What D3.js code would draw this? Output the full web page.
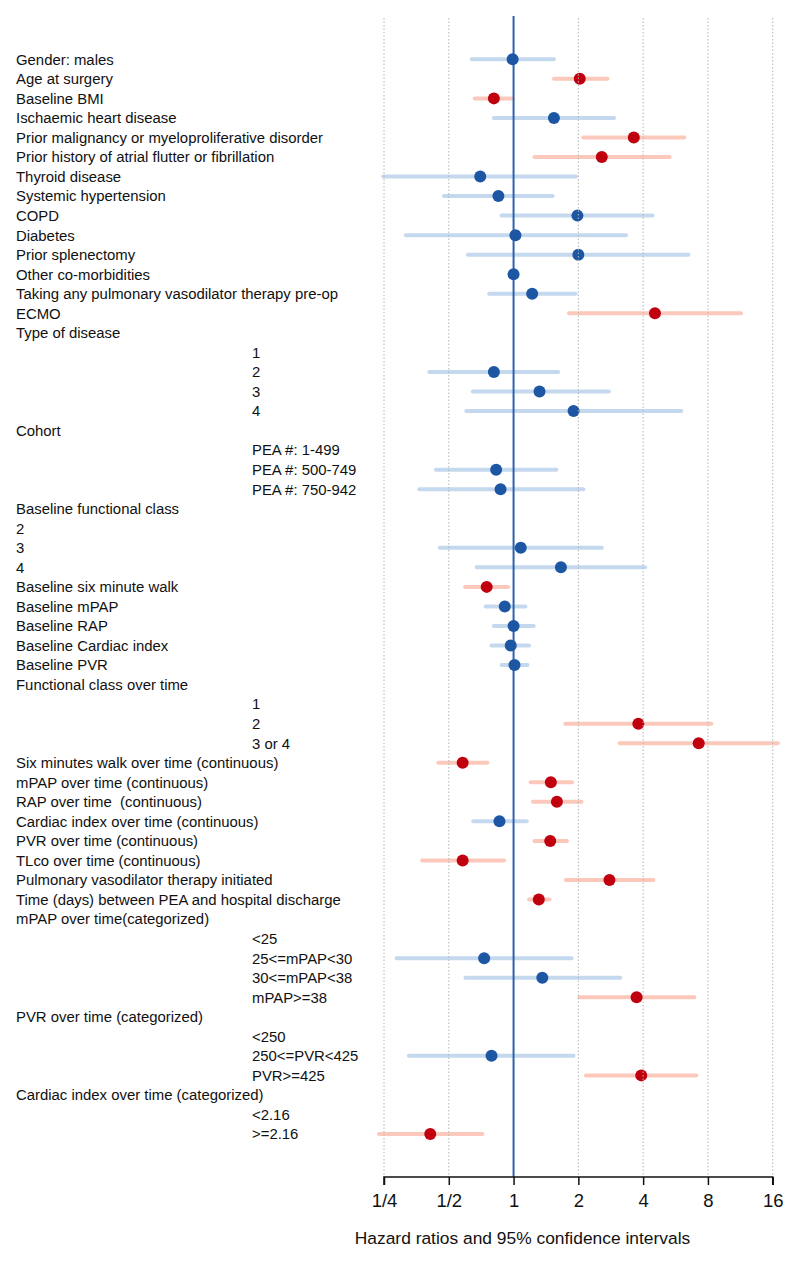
<!DOCTYPE html>
<html>
<head>
<meta charset="utf-8">
<script src="https://cdn.jsdelivr.net/npm/d3@7"></script>
<style>
  html, body { margin: 0; padding: 0; background: #fff; }
  svg { display: block; }
  text { font-family: "Liberation Sans", Arial, sans-serif; }
</style>
</head>
<body>
<div id="chart"></div>
<script>
// ---- data ----
const labels = [
  "Gender: males", "Age at surgery", "Baseline BMI", "Ischaemic heart disease",
  "Prior malignancy or myeloproliferative disorder", "Prior history of atrial flutter or fibrillation",
  "Thyroid disease", "Systemic hypertension", "COPD", "Diabetes", "Prior splenectomy",
  "Other co-morbidities", "Taking any pulmonary vasodilator therapy pre-op", "ECMO",
  "Type of disease", "1", "2", "3", "4",
  "Cohort", "PEA #: 1-499", "PEA #: 500-749", "PEA #: 750-942",
  "Baseline functional class", "2", "3", "4",
  "Baseline six minute walk", "Baseline mPAP", "Baseline RAP", "Baseline Cardiac index", "Baseline PVR",
  "Functional class over time", "1", "2", "3 or 4",
  "Six minutes walk over time (continuous)", "mPAP over time (continuous)", "RAP over time  (continuous)",
  "Cardiac index over time (continuous)", "PVR over time (continuous)", "TLco over time (continuous)",
  "Pulmonary vasodilator therapy initiated", "Time (days) between PEA and hospital discharge",
  "mPAP over time(categorized)", "<25", "25<=mPAP<30", "30<=mPAP<38", "mPAP>=38",
  "PVR over time (categorized)", "<250", "250<=PVR<425", "PVR>=425",
  "Cardiac index over time (categorized)", "<2.16", ">=2.16"
];
// 1 = sub-level (indented) label
const subLevel = [
  0,0,0,0,0,0,0,0,0,0,0,0,0,0,
  0,1,1,1,1,
  0,1,1,1,
  0,0,0,0,
  0,0,0,0,0,
  0,1,1,1,
  0,0,0,0,0,0,0,0,
  0,1,1,1,1,
  0,1,1,1,
  0,1,1
];
const hr = [
  0.99, 2.03, 0.81, 1.54, 3.62, 2.57, 0.70, 0.85, 1.98, 1.02, 2.00, 1.00, 1.22, 4.54,
  null, null, 0.81, 1.32, 1.90,
  null, null, 0.83, 0.87,
  null, null, 1.08, 1.66,
  0.75, 0.91, 1.00, 0.97, 1.01,
  null, null, 3.80, 7.25,
  0.58, 1.49, 1.59, 0.86, 1.48, 0.58, 2.79, 1.31,
  null, null, 0.73, 1.36, 3.73,
  null, null, 0.79, 3.92,
  null, null, 0.41
];
const lower = [
  0.64, 1.54, 0.66, 0.81, 2.11, 1.25, 0.248, 0.475, 0.88, 0.316, 0.614, 0.99, 0.77, 1.81,
  null, null, 0.406, 0.646, 0.603,
  null, null, 0.436, 0.365,
  null, null, 0.454, 0.674,
  0.595, 0.742, 0.81, 0.79, 0.88,
  null, null, 1.74, 3.11,
  0.447, 1.20, 1.23, 0.65, 1.25, 0.376, 1.75, 1.18,
  null, null, 0.286, 0.597, 2.02,
  null, null, 0.326, 2.17,
  null, null, 0.237
];
const upper = [
  1.54, 2.73, 0.99, 2.93, 6.21, 5.31, 1.95, 1.52, 4.42, 3.33, 6.49, 1.01, 1.94, 11.4,
  null, null, 1.61, 2.77, 6.02,
  null, null, 1.58, 2.11,
  null, null, 2.57, 4.09,
  0.943, 1.135, 1.24, 1.18, 1.16,
  null, null, 8.30, 16.9,
  0.755, 1.87, 2.07, 1.15, 1.77, 0.903, 4.46, 1.47,
  null, null, 1.86, 3.13, 6.92,
  null, null, 1.90, 7.07,
  null, null, 0.716
];
const tickValues = [0.25, 0.5, 1, 2, 4, 8, 16];
const tickLabels = ["1/4", "1/2", "1", "2", "4", "8", "16"];
const xTitle = "Hazard ratios and 95% confidence intervals";

// ---- layout ----
const W = 800, H = 1261;
const svg = d3.select("#chart").append("svg").attr("width", W).attr("height", H);

const x = d3.scaleLog().base(2).domain([0.25, 16]).range([384, 772.7]);
const y = d3.scaleLinear().domain([0, labels.length - 1]).range([59.3, 1134]);
const axisY = 1177;

const rows = labels.map((l, i) => ({ i, label: l, sub: subLevel[i], hr: hr[i], lo: lower[i], hi: upper[i] }));
const est = rows.filter(d => d.hr !== null);
const sig = d => d.lo > 1 || d.hi < 1;

const blueDot = "#1d56a3", blueCI = "#c4d9ee";
const redDot = "#c0000f", redCI = "#fcc8bb";

// labels
svg.append("g").selectAll("text").data(rows).join("text")
  .attr("x", d => d.sub ? 252 : 16)
  .attr("y", d => y(d.i))
  .attr("dy", "0.36em")
  .style("white-space", "pre")
  .attr("font-size", 14.9)
  .attr("fill", "#111")
  .text(d => d.label);

// CI bars
svg.append("g").selectAll("line").data(est).join("line")
  .attr("x1", d => x(d.lo)).attr("x2", d => x(d.hi))
  .attr("y1", d => y(d.i)).attr("y2", d => y(d.i))
  .attr("stroke", d => sig(d) ? redCI : blueCI)
  .attr("stroke-width", 4)
  .attr("stroke-linecap", "round");

// reference line
svg.append("line")
  .attr("x1", x(1)).attr("x2", x(1))
  .attr("y1", 16).attr("y2", axisY)
  .attr("stroke", "#2d62ad").attr("stroke-width", 2);

// points
svg.append("g").selectAll("circle").data(est).join("circle")
  .attr("cx", d => x(d.hr)).attr("cy", d => y(d.i))
  .attr("r", 6)
  .attr("fill", d => sig(d) ? redDot : blueDot);

// dotted grid
svg.append("g").selectAll("line").data(tickValues.filter(v => v !== 1)).join("line")
  .attr("x1", d => x(d)).attr("x2", d => x(d))
  .attr("y1", 18).attr("y2", axisY)
  .attr("stroke", "#b4b4b4").attr("stroke-width", 1)
  .attr("stroke-dasharray", "1.5,2");

// x axis
const axis = d3.axisBottom(x).tickValues(tickValues)
  .tickFormat((d, i) => tickLabels[i]).tickSize(8).tickPadding(9);
const gA = svg.append("g").attr("transform", `translate(0,${axisY})`).call(axis);
gA.select(".domain").attr("stroke", "#111").attr("stroke-width", 1.5)
  .attr("d", `M${x(0.25)},8V0H${x(16)}V8`);
gA.selectAll(".tick line").attr("stroke", "#111").attr("stroke-width", 1.5);
gA.selectAll(".tick text").attr("font-size", 18.5).attr("fill", "#111")
  .attr("font-family", "'Liberation Sans', Arial, sans-serif");

svg.append("text")
  .attr("x", 522.5)
  .attr("y", 1244)
  .attr("text-anchor", "middle")
  .attr("font-size", 17.4)
  .attr("fill", "#111")
  .text(xTitle);
</script>
</body>
</html>
